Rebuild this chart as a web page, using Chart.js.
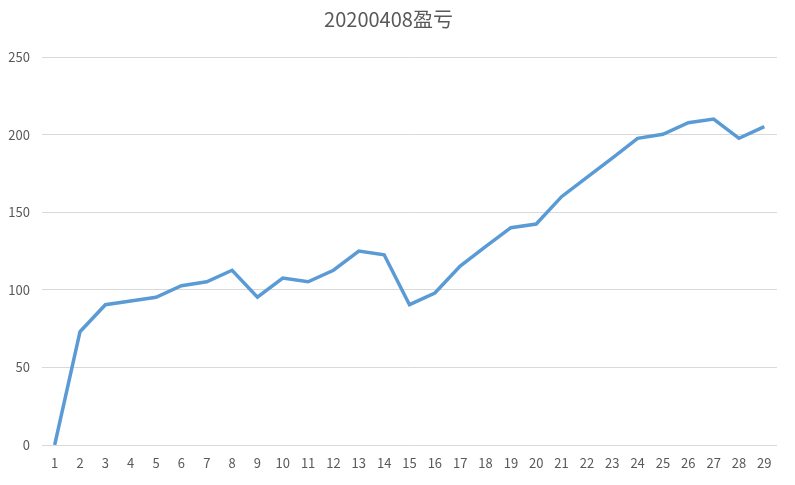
<!DOCTYPE html>
<html>
<head>
<meta charset="utf-8">
<script src="https://cdn.jsdelivr.net/npm/chart.js@4"></script>
<style>
    html, body { margin: 0; padding: 0; background: #fff; }
    #wrap { width: 795px; height: 485px; }
</style>
</head>
<body>
<div id="wrap"><canvas id="pnlChart"></canvas></div>
<script>
// Chart data
const days = ['1', '2', '3', '4', '5', '6', '7', '8', '9', '10', '11', '12', '13', '14', '15',
    '16', '17', '18', '19', '20', '21', '22', '23', '24', '25', '26', '27', '28', '29'];
const profit = [0, 73, 90.4, 92.8, 95.2, 102.6, 105.2, 112.6, 95.2, 107.6, 105.2, 112.6, 125, 122.6, 90.4,
    97.9, 115.3, 127.8, 140, 142.4, 160, 172.5, 184.9, 197.6, 200.2, 207.7, 210, 197.6, 205.1];
const yTicks = [0, 50, 100, 150, 200, 250];

const fontFamily = '"Noto Sans CJK SC", "Noto Sans", sans-serif';

document.addEventListener('DOMContentLoaded', () => {
    const ctx = document.getElementById('pnlChart').getContext('2d');
    new Chart(ctx, {
        type: 'line',
        data: {
            labels: days,
            datasets: [{
                label: '盈亏',
                data: profit,
                borderColor: '#5b9bd5',
                borderWidth: 3.5,
                pointRadius: 0,
                tension: 0,
                fill: false
            }]
        },
        options: {
            responsive: true,
            maintainAspectRatio: false,
            animation: false,
            layout: {
                padding: { left: 0, right: 18, top: 0, bottom: 9 }
            },
            plugins: {
                legend: { display: false },
                tooltip: { enabled: false },
                title: {
                    display: true,
                    text: '20200408盈亏',
                    color: '#595959',
                    font: { family: fontFamily, size: 20, weight: 'normal' },
                    padding: { top: 7, bottom: 26 }
                }
            },
            scales: {
                x: {
                    offset: true,
                    afterFit: (scale) => {
                        scale.height = 31;
                    },
                    grid: { display: false },
                    border: { display: false },
                    ticks: {
                        color: '#595959',
                        font: { family: fontFamily, size: 13 },
                        padding: 2,
                        maxRotation: 0,
                        autoSkip: false
                    }
                },
                y: {
                    min: 0,
                    max: 250,
                    afterBuildTicks: (scale) => {
                        scale.ticks = yTicks.map(v => ({ value: v }));
                    },
                    afterFit: (scale) => {
                        scale.width = 42;
                    },
                    grid: { color: '#d9d9d9', lineWidth: 1, drawTicks: false },
                    border: { display: false },
                    ticks: {
                        color: '#595959',
                        font: { family: fontFamily, size: 13 },
                        padding: 12
                    }
                }
            }
        }
    });
});
</script>
</body>
</html>
